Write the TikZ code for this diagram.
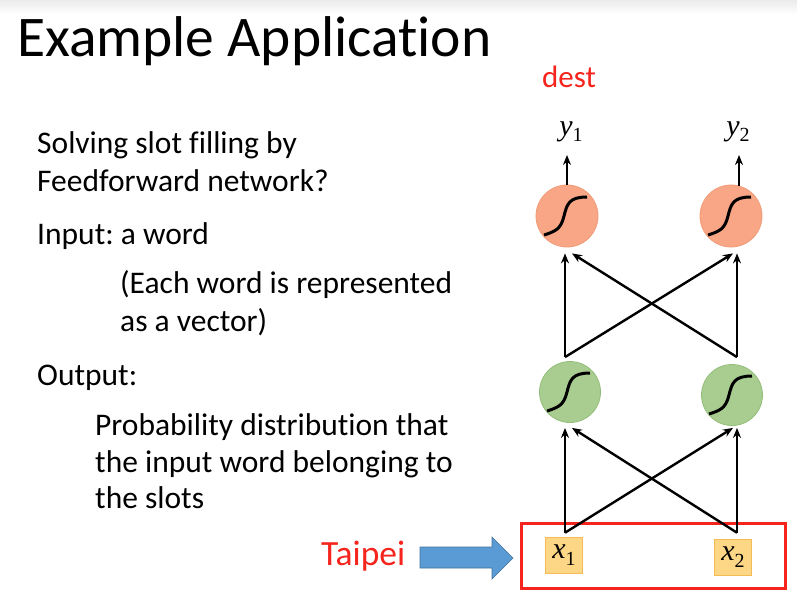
\documentclass[tikz,border=0pt]{standalone}
\usepackage{fontspec}
\setmainfont[Ligatures={NoCommon}]{Carlito}
\newfontfamily\tnr{Liberation Serif}
\usetikzlibrary{calc,arrows.meta}
\frenchspacing
\definecolor{orfill}{HTML}{F8A685}
\definecolor{ordraw}{HTML}{F09C78}
\definecolor{grfill}{HTML}{A9CD91}
\definecolor{grdraw}{HTML}{93BE7A}
\definecolor{infill}{HTML}{FDD686}
\definecolor{indraw}{HTML}{F3BC55}
\definecolor{slidered}{HTML}{F5241C}
\definecolor{bluefill}{HTML}{5B9BD5}
\definecolor{bluedraw}{HTML}{41719C}
\tikzset{
  body/.style={font=\fontsize{31.5}{36}\selectfont, anchor=base west, inner sep=0pt},
  neuronO/.style={circle, fill=orfill, draw=ordraw, line width=0.8pt, minimum size=62pt, inner sep=0pt},
  neuronG/.style={circle, fill=grfill, draw=grdraw, line width=0.8pt, minimum size=61pt, inner sep=0pt},
  inbox/.style={fill=infill, draw=indraw, line width=0.6pt, minimum width=37pt, minimum height=36pt, inner sep=0pt, font=\tnr\fontsize{30}{32}\selectfont},
  outlbl/.style={font=\tnr\fontsize{30}{32}\selectfont, anchor=base, inner sep=0pt},
  conn/.style={line width=2.4pt, -{Stealth[length=10pt,width=8pt]}},
  sig/.pic={\draw[line width=3pt] (-23,19) .. controls (-10,15) and (-6,12) .. (-3,0) .. controls (0,-12) and (2,-19) .. (20,-19);}
}
\newcommand{\varsub}[2]{\itshape #1\/\raisebox{-0.22em}{\fontsize{20}{22}\selectfont\upshape #2}}
\begin{document}
\begin{tikzpicture}[x=1pt,y=-1pt]
\useasboundingbox (0,0) rectangle (797,597);
\shade[top color=black!8, bottom color=white] (0,0) rectangle (797,14);
% title
\node[font=\fontsize{57.5}{63}\selectfont, anchor=base west, inner sep=0pt] (title) at (17,56) {Example Application};
% body text
\node[body] (t1) at (37,153) {Solving slot filling by};
\node[body] (t2) at (37,191) {Feedforward network?};
\node[body] (t3) at (37,244) {Input: a word};
\node[body] (t4) at (120,293) {(Each word is represented};
\node[body] (t5) at (120,331) {as a vector)};
\node[body] (t6) at (37,385) {Output:};
\node[body] (t7) at (95,435) {Probability distribution that};
\node[body] (t8) at (95,472) {the input word belonging to};
\node[body] (t9) at (95,508) {the slots};
% network
\node[neuronO] (o1) at (567,216) {};
\node[neuronO] (o2) at (731,216) {};
\node[neuronG] (h1) at (570,392) {};
\node[neuronG] (h2) at (732,395) {};
\pic at (o1) {sig};
\pic at (o2) {sig};
\pic at (h1) {sig};
\pic at (h2) {sig};
\node[inbox] (x1) at (564,555) {\varsub{x}{1}};
\node[inbox] (x2) at (733,557) {\varsub{x}{2}};
\node[outlbl] (y1) at (571,135) {\varsub{y}{1}};
\node[outlbl] (y2) at (738,135) {\varsub{y}{2}};
\node[font=\fontsize{31}{34}\selectfont, text=slidered, anchor=base, inner sep=0pt] (dest) at (569,87) {dest};
% red frame
\node[draw=slidered, line width=3pt, minimum width=264pt, minimum height=65pt, inner sep=0pt] (frame) at (653,555.5) {};
% input -> hidden
\coordinate (a1) at ($(x1.north)+(1,-4)$);
\coordinate (a2) at ($(x2.north)+(4,-6)$);
\draw[conn] (a1) -- ($(h1.south)+(-5,5)$);
\draw[conn] (a1) -- ($(h2.south)+(1,2)$);
\draw[conn] (a2) -- ($(h2.south)+(5,2)$);
\draw[conn] (a2) -- ($(h1.south)+(2,5)$);
% hidden -> output
\coordinate (b1) at ($(h1.north)+(-5,-4)$);
\coordinate (b2) at ($(h2.north)+(5,-7)$);
\draw[conn] (b1) -- ($(o1.south)+(-2,6)$);
\draw[conn] (b1) -- ($(o2.south)+(2,6)$);
\draw[conn] (b2) -- ($(o2.south)+(6,6)$);
\draw[conn] (b2) -- ($(o1.south)+(5,6)$);
% output arrows
\coordinate (c1) at (567,155);
\coordinate (c2) at (739,155);
\draw[conn] (o1.north) -- (c1);
\draw[conn] ($(o2.north)+(8,1)$) -- (c2);
% Taipei
\node[font=\fontsize{35.5}{40}\selectfont, text=slidered, anchor=base west, inner sep=0pt] (taipei) at (321,565) {Taipei};
\draw[fill=bluefill, draw=bluedraw, line width=0.6pt] (420,547) -- (492,547) -- (492,537) -- (513,558) -- (492,579) -- (492,568) -- (420,568) -- cycle;
\end{tikzpicture}
\end{document}
